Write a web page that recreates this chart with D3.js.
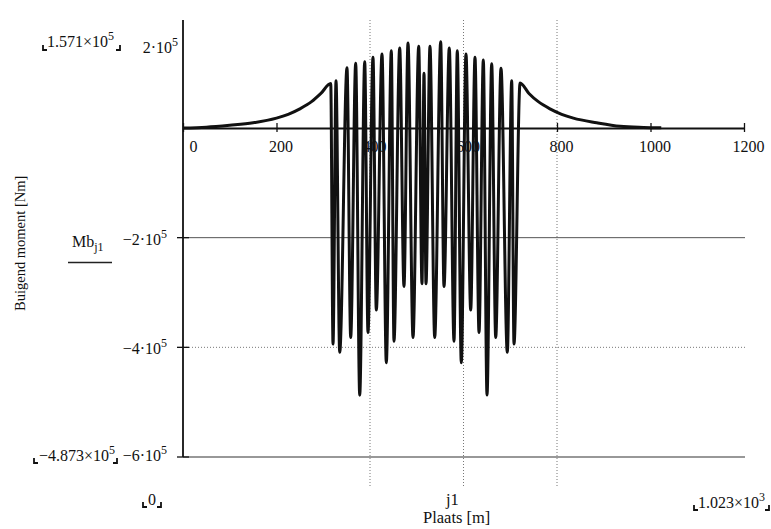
<!DOCTYPE html>
<html>
<head>
<meta charset="utf-8">
<script src="https://cdn.jsdelivr.net/npm/d3@7"></script>
<style>
  body { margin: 0; background: #fff; }
  svg text { font-family: "Liberation Serif", "Times New Roman", serif; fill: #111; }
</style>
</head>
<body>
<svg id="chart" width="771" height="529"></svg>
<script>
// Plaats [m] along the beam
var plaats = [0, 50, 100, 150, 200, 225, 250, 275, 295, 316,
  320.9, 327.3, 335.2, 350.8, 358.7, 369.4, 378.0, 388.7, 395.7, 406.4,
  413.5, 425.7, 434.9, 445.6, 451.3, 463.5, 472.7, 481.3, 492.0, 504.2,
  511.2, 515.5, 519.8, 528.3, 538.4, 551.2, 558.3, 569.6, 579.7, 586.7,
  595.3, 605.3, 615.4, 624.6, 633.2, 642.4, 650.3, 660.3, 668.9, 680.2,
  693.7, 703.1, 708.0,
  721, 740, 760, 785, 810, 835, 885, 935, 985, 1023];

// Buigend moment Mb [Nm]
var moment = [0, 1.5e3, 5e3, 9.5e3, 18e3, 25e3, 35e3, 48e3, 63e3, 81e3,
  -394e3, 86e3, -409e3, 110e3, -382e3, 118e3, -487.3e3, 121e3, -373e3, 129e3,
  -332e3, 135e3, -428e3, 141e3, -389e3, 146e3, -289e3, 155e3, -382e3, 149e3,
  -284e3, 100e3, -284e3, 149e3, -382e3, 157.1e3, -289e3, 146e3, -389e3, 141e3,
  -428e3, 135e3, -332e3, 129e3, -373e3, 124e3, -487e3, 117e3, -382e3, 109e3,
  -409e3, 86e3, -394e3,
  82e3, 63e3, 48e3, 35e3, 25e3, 18e3, 9.5e3, 3e3, 1e3, 0.3e3];

var xTicks = [0, 200, 400, 600, 800, 1000, 1200];
var yTicks = [-2e5, -4e5, -6e5];
var yTickLabels = [["\u22122\u00b710", "5"], ["\u22124\u00b710", "5"], ["\u22126\u00b710", "5"]];
var xGrid = [400, 600, 800];

var svg = d3.select("#chart");

var x = d3.scaleLinear().domain([0, 1200]).range([183, 744]);
var y = d3.scaleLinear().domain([-6e5, 0]).range([457, 128]);

// grid
svg.append("g").selectAll("line").data(xGrid).enter().append("line")
  .attr("x1", function(d) { return x(d); }).attr("x2", function(d) { return x(d); })
  .attr("y1", 20).attr("y2", 486)
  .attr("stroke", "#777").attr("stroke-width", 1).attr("stroke-dasharray", "1,2");

svg.append("line").attr("x1", x(0)).attr("x2", 745).attr("y1", y(-2e5)).attr("y2", y(-2e5))
  .attr("stroke", "#555").attr("stroke-width", 1);
svg.append("line").attr("x1", x(0)).attr("x2", 745).attr("y1", y(-4e5)).attr("y2", y(-4e5))
  .attr("stroke", "#777").attr("stroke-width", 1).attr("stroke-dasharray", "1,2");
svg.append("line").attr("x1", x(0)).attr("x2", 745).attr("y1", y(-6e5)).attr("y2", y(-6e5))
  .attr("stroke", "#333").attr("stroke-width", 1.2);

// x axis (crossing ticks, Mathcad style)
var xAxis = svg.append("g").attr("transform", "translate(0," + y(0) + ")")
  .call(d3.axisBottom(x).tickValues(xTicks).tickFormat(d3.format("d"))
    .tickSizeInner(4).tickSizeOuter(0).tickPadding(9));
xAxis.select(".domain").attr("stroke", "#111").attr("stroke-width", 1.8);
xAxis.selectAll(".tick line").attr("y1", -5).attr("stroke", "#111").attr("stroke-width", 1.3);
xAxis.selectAll(".tick text")
  .attr("font-size", 16).attr("font-family", "Liberation Serif").attr("fill", "#111")
  .attr("dx", function(d) { return d === 0 ? 10 : 4; });

// y axis
svg.append("line").attr("x1", x(0)).attr("x2", x(0)).attr("y1", 20).attr("y2", y(-6e5))
  .attr("stroke", "#111").attr("stroke-width", 1.8);
svg.append("g").selectAll("line").data(yTicks).enter().append("line")
  .attr("x1", x(0) - 6).attr("x2", x(0) + 6)
  .attr("y1", function(d) { return y(d); }).attr("y2", function(d) { return y(d); })
  .attr("stroke", "#111").attr("stroke-width", 1.3);

function supText(xp, yp, base, sup, anchor) {
  var t = svg.append("text").attr("x", xp).attr("y", yp).attr("font-size", 16)
    .attr("text-anchor", anchor || "start");
  t.append("tspan").text(base);
  t.append("tspan").attr("dy", -7).attr("font-size", 12).text(sup);
  return t;
}

yTicks.forEach(function(d, i) {
  supText(167, y(d) + (i === 2 ? 4 : 7), yTickLabels[i][0], yTickLabels[i][1], "end");
});
supText(178, 53, "2\u00b710", "5", "end");

// Mathcad placeholder brackets
function bracket(xp, yp, side) {
  var p = side === "l"
    ? "M" + xp + "," + (yp - 5) + "V" + yp + "H" + (xp + 4)
    : "M" + (xp - 4) + "," + yp + "H" + xp + "V" + (yp - 5);
  svg.append("path").attr("d", p).attr("fill", "none").attr("stroke", "#111").attr("stroke-width", 1.8);
}

supText(47, 47, "1.571\u00d710", "5");
bracket(43, 50, "l"); bracket(120, 50, "r");

supText(39, 461, "\u22124.873\u00d710", "5");
bracket(34, 463, "l"); bracket(117, 463, "r");

svg.append("text").attr("x", 148).attr("y", 505).attr("font-size", 16).text("0");
bracket(143, 507, "l"); bracket(161, 507, "r");

supText(698, 508, "1.023\u00d710", "3");
bracket(694, 510, "l"); bracket(769, 510, "r");

svg.append("text").attr("x", 446).attr("y", 505).attr("font-size", 16.5).text("j1");
svg.append("text").attr("x", 423).attr("y", 523).attr("font-size", 16.5).text("Plaats [m]");

var mb = svg.append("text").attr("x", 72).attr("y", 247).attr("font-size", 16);
mb.append("tspan").text("Mb");
mb.append("tspan").attr("dy", 4).attr("font-size", 12).text("j1");
svg.append("line").attr("x1", 68).attr("x2", 112).attr("y1", 262.5).attr("y2", 262.5)
  .attr("stroke", "#222").attr("stroke-width", 1.5);

svg.append("text").attr("transform", "translate(25,311) rotate(-90)")
  .attr("font-size", 14.5).text("Buigend moment [Nm]");

// curve
var line = d3.line()
  .x(function(d, i) { return x(plaats[i]); })
  .y(function(d) { return y(d); })
  .curve(d3.curveMonotoneX);

svg.append("path").datum(moment).attr("d", line)
  .attr("fill", "none").attr("stroke", "#111").attr("stroke-width", 3)
  .attr("stroke-linejoin", "round");
</script>
</body>
</html>
